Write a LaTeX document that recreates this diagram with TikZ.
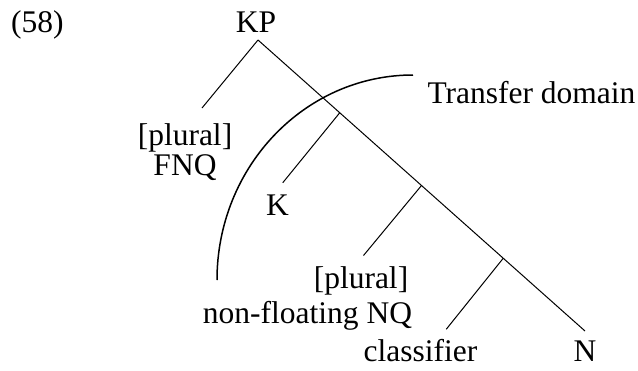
\documentclass[tikz,border=0pt]{standalone}
\usepackage{fontspec}
\setmainfont{Liberation Serif}
\usetikzlibrary{calc}
\begin{document}
\begin{tikzpicture}[x=1pt,y=-1pt,
  lbl/.style={inner sep=0pt,anchor=base,font=\fontsize{31.5}{31.5}\selectfont},
  branch/.style={line width=1pt},
  domainarc/.style={line width=1.5pt}]
\useasboundingbox (0,0) rectangle (638,370);
% labels
\node[lbl,anchor=base west] (ex) at (11,32) {(58)};
\node[lbl] (kp) at (256,32) {KP};
\node[lbl] (pl1) at (185,145) {[plural]};
\node[lbl] (fnq) at (185,175) {FNQ};
\node[lbl] (k) at (277.5,215) {K};
\node[lbl] (pl2) at (361,288) {[plural]};
\node[lbl] (nfnq) at (307.5,323) {non-floating NQ};
\node[lbl] (cl) at (420.5,361) {classifier};
\node[lbl] (n) at (585,361) {N};
\node[lbl] (td) at (531.5,103) {Transfer domain};
% tree
\coordinate (top) at (258,40);
\coordinate (bot) at (585,331);
\coordinate (b1) at ($(top)!0.25!(bot)$);
\coordinate (b2) at ($(top)!0.5!(bot)$);
\coordinate (b3) at ($(top)!0.75!(bot)$);
\coordinate (fnqend) at (202,108);
\coordinate (kend) at ($(b1)+(-57,70)$);
\coordinate (nqend) at ($(b2)+(-58,70)$);
\coordinate (clend) at ($(b3)+(-57,71)$);
\draw[branch] (top) -- (bot);
\draw[branch] (top) -- (fnqend);
\draw[branch] (b1) -- (kend);
\draw[branch] (b2) -- (nqend);
\draw[branch] (b3) -- (clend);
% transfer domain arc
\coordinate (arcstart) at (217,280);
\draw[domainarc] (arcstart) arc[start angle=180,end angle=90,x radius=196pt,y radius=205pt];
\end{tikzpicture}
\end{document}
